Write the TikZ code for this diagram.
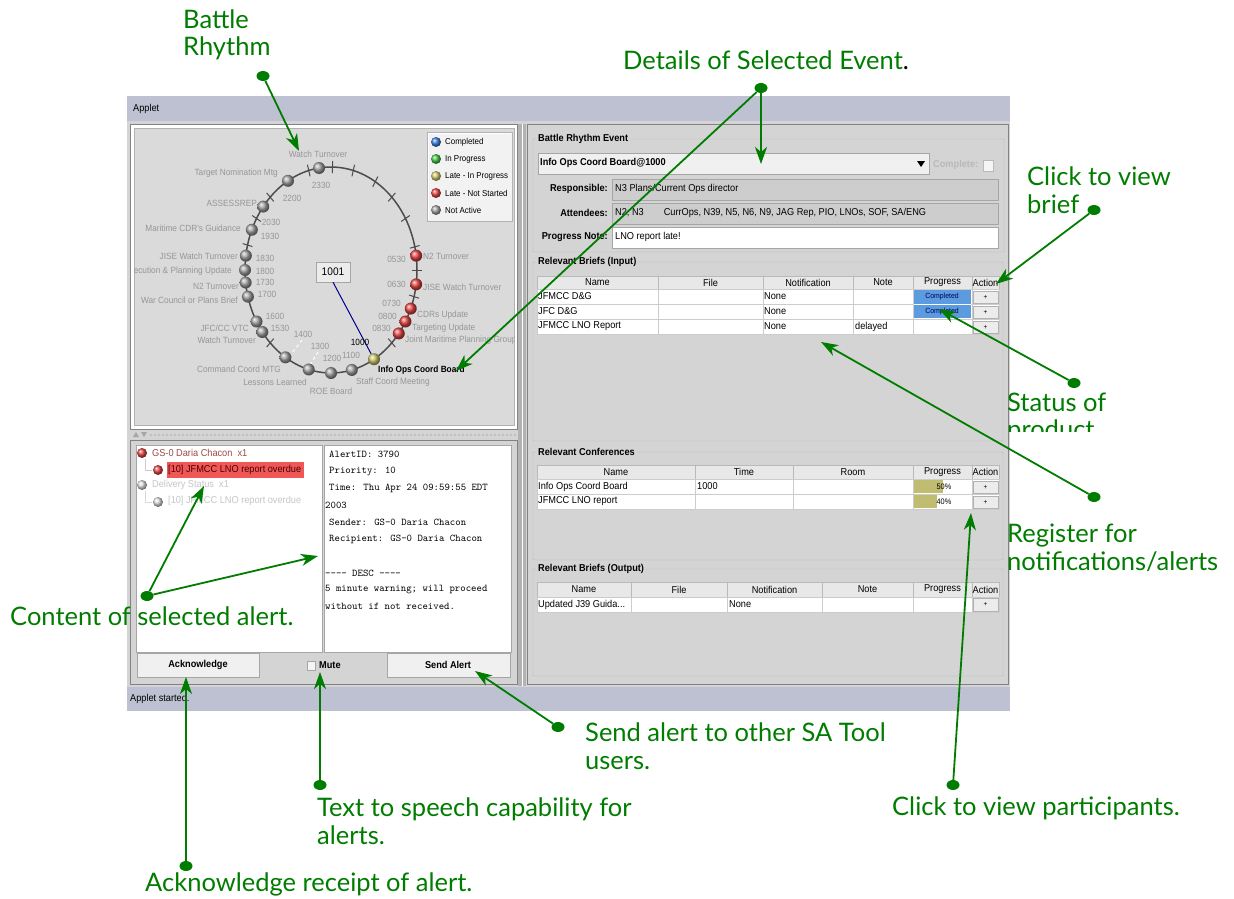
\documentclass[tikz,border=0pt]{standalone}
\usepackage{fontspec}
\setmainfont{Liberation Sans}
\newfontfamily\uifont[FakeStretch=0.92]{Liberation Sans}
\newfontfamily\calloutfont{Lato}
\usetikzlibrary{arrows.meta,positioning,shapes.geometric,calc}

\definecolor{notegreen}{RGB}{0,125,0}
\definecolor{barblue}{RGB}{190,193,209}
\definecolor{wingray}{RGB}{212,212,212}
\definecolor{panegray}{RGB}{218,218,218}
\definecolor{edgegray}{RGB}{130,130,130}
\definecolor{fieldgray}{RGB}{205,205,205}
\definecolor{evtgray}{RGB}{150,150,150}
\definecolor{doneblue}{RGB}{92,156,222}
\definecolor{olivebar}{RGB}{192,188,112}
\definecolor{alertred}{RGB}{240,88,88}
\definecolor{alerttext}{RGB}{160,72,72}
\definecolor{balltan}{RGB}{210,203,110}
\definecolor{ballgray}{RGB}{165,165,165}
\definecolor{ballred}{RGB}{232,70,70}
\definecolor{ballblue}{RGB}{60,130,220}
\definecolor{ballgreen}{RGB}{70,200,70}

\tikzset{
  ui/.style={font=\uifont\fontsize{10}{11}\selectfont, inner sep=0pt},
  uib/.style={ui, font=\uifont\bfseries\fontsize{10}{11}\selectfont},
  evt/.style={ui, text=evtgray, font=\uifont\fontsize{9}{10}\selectfont},
  mono/.style={font=\ttfamily\fontsize{10.3}{11}\selectfont, inner sep=0pt, anchor=west},
  ball/.style={circle, minimum size=12pt, inner sep=0pt, ball color=#1},
  note/.style={font=\calloutfont\fontsize{25.5}{27.5}\selectfont, text=notegreen, anchor=west, align=left, inner sep=0pt},
  pin/.style={ellipse, fill=notegreen, minimum width=13pt, minimum height=10pt, inner sep=0pt},
  callout/.style={draw=notegreen, line width=1.8pt, -{Stealth[length=17pt,width=12pt,inset=5pt]}},
  hdr/.style={fill=gray!18, draw=gray!55},
  cell/.style={fill=white, draw=gray!40},
  plusbtn/.style={fill=gray!15, draw=gray!60},
  frame/.style={draw=gray!55, rounded corners=1pt},
  field/.style={fill=fieldgray, draw=gray!70, line width=0.8pt}
}

\begin{document}
\begin{tikzpicture}[x=1pt, y=-1pt]
\useasboundingbox[fill=white] (0,0) rectangle (1234,899);

% window
\fill[wingray] (127,96) rectangle (1010,711);
\fill[barblue] (127,96) rectangle (1010,121);
\fill[barblue] (127,687) rectangle (1010,711);
\node[ui, anchor=west] (title) at (133,109) {Applet};
\node[ui, anchor=west] (status) at (130,699) {Applet started.};

% battle rhythm pane
\draw[edgegray, fill=white] (130,124) rectangle (517,429);
\draw[gray!60, fill=panegray] (134,128) rectangle (514,425);
\draw[gray!50, dotted, line width=2pt] (150,435) -- (517,435);
\fill[gray!70] (133,437) -- (139,437) -- (136,432) -- cycle;
\fill[gray!70] (141,432) -- (147,432) -- (144,437) -- cycle;
\fill[gray!60] (518,124) rectangle (526,686);
\draw[white] (522,124) -- (522,686);

\begin{scope}
\clip (134,128) rectangle (514,425);
\draw[black!70, line width=1.5pt] (331,270) ellipse [x radius=86, y radius=103];
\foreach \a in {105,89,75,59,45,30,13,0,-15,-45,135,150,166,225}
  \draw[black!70, line width=1pt] ({331+81*cos(\a)},{270-97*sin(\a)}) -- ({331+91*cos(\a)},{270-109*sin(\a)});
\draw[white, dashed, line width=1pt] (302,340) -- (289,357);
\draw[white, dashed, line width=1pt] (318,352) -- (310,365);

\node[draw=gray!70, fill=gray!15, minimum width=34pt, minimum height=20pt, inner sep=0pt, font=\uifont\fontsize{11}{12}\selectfont] (clock) at (333,272) {1001};

\foreach \a/\c [count=\i] in {98/ballgray,120/ballgray,142/ballgray,157/ballgray,172/ballgray,180/ballgray,187/ballgray,195/ballgray,210/ballgray,217/ballgray,238/ballgray,255/ballgray,270/ballgray,284/ballgray,300/balltan,322/ballred,330/ballred,338/ballred,352/ballred,8/ballred}
  \node[ball=\c] (ev\i) at ({331+86*cos(\a)},{270-103*sin(\a)}) {};
\draw[blue!55!black, line width=1pt] (clock.south) -- (ev15);

% event labels
\node[evt] (l1) at (318,154) {Watch Turnover};
\node[evt] (t1) at (321,185) {2330};
\node[evt, anchor=east] (l2) at (278,173) {Target Nomination Mtg};
\node[evt] (t2) at (292,198) {2200};
\node[evt, anchor=east] (l3) at (257,203) {ASSESSREP};
\node[evt] (t3) at (271,222) {2030};
\node[evt, anchor=east] (l4) at (241,228) {Maritime CDR's Guidance};
\node[evt] (t4) at (270,236) {1930};
\node[evt, anchor=east] (l5) at (238,256) {JISE Watch Turnover};
\node[evt] (t5) at (265,258) {1830};
\node[evt, anchor=east] (l6) at (232,271) {Execution \& Planning Update};
\node[evt] (t6) at (265,271) {1800};
\node[evt, anchor=east] (l7) at (239,286) {N2 Turnover};
\node[evt] (t7) at (265,282) {1730};
\node[evt, anchor=east] (l8) at (238,300) {War Council or Plans Brief};
\node[evt] (t8) at (267,294) {1700};
\node[evt] (t9) at (275,316) {1600};
\node[evt, anchor=east] (l9) at (249,328) {JFC/CC VTC};
\node[evt] (t10) at (280,328) {1530};
\node[evt, anchor=east] (l10) at (256,340) {Watch Turnover};
\node[evt] (t11) at (303,334) {1400};
\node[evt] (t12) at (320,346) {1300};
\node[evt] (t13) at (332,358) {1200};
\node[evt] (t14) at (351,355) {1100};
\node[evt, text=black] (t15) at (360,342) {1000};
\node[evt, anchor=east] (l11) at (281,369) {Command Coord MTG};
\node[evt, anchor=east] (l12) at (307,382) {Lessons Learned};
\node[evt] (l13) at (331,391) {ROE Board};
\node[evt, anchor=west] (l14) at (356,382) {Staff Coord Meeting};
\node[evt, anchor=west, text=black, font=\uifont\bfseries\fontsize{9}{10}\selectfont] (l15) at (378,370) {Info Ops Coord Board};
\node[evt, anchor=east] (t16) at (406,259) {0530};
\node[evt, anchor=west] (l16) at (423,256) {N2 Turnover};
\node[evt, anchor=east] (t17) at (406,284) {0630};
\node[evt, anchor=west] (l17) at (423,287) {JISE Watch Turnover};
\node[evt, anchor=east] (t18) at (401,303) {0730};
\node[evt, anchor=west] (l18) at (417,315) {CDRs Update};
\node[evt, anchor=east] (t19) at (397,316) {0800};
\node[evt, anchor=west] (l19) at (412,328) {Targeting Update};
\node[evt, anchor=east] (t20) at (391,328) {0830};
\node[evt, anchor=west] (l20) at (405,340) {Joint Maritime Planning Group};
\end{scope}

% legend
\draw[gray!60, fill=gray!10] (427,132) rectangle (512,221);
\draw[white] (428,220) -- (428,133) -- (511,133);
\foreach \c/\t [count=\i] in {ballblue/Completed,ballgreen/In Progress,balltan/Late - In Progress,ballred/Late - Not Started,ballgray/Not Active}{
  \node[ball=\c, minimum size=10pt] (key\i) at (436,{125+17*\i}) {};
  \node[ui, anchor=west, font=\uifont\fontsize{8.6}{9}\selectfont] (keytxt\i) at (445,{125+17*\i}) {\t};
}

% alert pane
\draw[edgegray, fill=wingray] (130,440) rectangle (517,684);
\draw[gray!70, fill=white] (136,445) rectangle (322,652);
\draw[gray!70, fill=white] (324,445) rectangle (511,652);
\node[ball=ballred, minimum size=10pt] (a1) at (142,453) {};
\node[ui, anchor=west, text=alerttext] (a1t) at (152,453) {GS-0 Daria Chacon\ \ x1};
\draw[gray!40] (145,459) |- (152,470);
\fill[alertred] (167,462) rectangle (304,478);
\node[ball=ballred, minimum size=10pt] (a2) at (158,470) {};
\node[ui, anchor=west, text=black!70!red] (a2t) at (168,470) {[10] JFMCC LNO report overdue};
\node[ball=gray!25, minimum size=10pt] (a3) at (142,485) {};
\node[ui, anchor=west, text=gray!45] (a3t) at (152,485) {Delivery Status\ \ x1};
\draw[gray!30] (145,491) |- (152,502);
\node[ball=gray!25, minimum size=10pt] (a4) at (158,502) {};
\node[ui, anchor=west, text=gray!45] (a4t) at (168,501) {[10] JFMCC LNO report overdue};

\node[mono] (m1) at (329,454) {AlertID: 3790};
\node[mono] (m2) at (329,471) {Priority: 10};
\node[mono] (m3) at (329,488) {Time: Thu Apr 24 09:59:55 EDT};
\node[mono] (m4) at (325,505) {2003};
\node[mono] (m5) at (329,522) {Sender: GS-0 Daria Chacon};
\node[mono] (m6) at (329,539) {Recipient: GS-0 Daria Chacon};
\node[mono] (m7) at (325,573) {---- DESC ----};
\node[mono] (m8) at (325,590) {5 minute warning; will proceed};
\node[mono] (m9) at (325,606) {without if not received.};

\draw[gray!70, fill=gray!12] (137,653) rectangle (259,677);
\node[uib] (ackbtn) at (198,665) {Acknowledge};
\draw[gray!70, fill=gray!8] (307,661) rectangle (315,670);
\node[uib, anchor=west] (mute) at (319,665) {Mute};
\draw[gray!70, fill=gray!12] (387,653) rectangle (510,677);
\node[uib] (sendbtn) at (448,665) {Send Alert};

% event details pane
\draw[edgegray] (527,124) rectangle (1008,684);
\draw[frame] (533,139) rectangle (1004,252);
\node[uib, fill=wingray, inner xsep=2pt, anchor=west] (grp1) at (536,139) {Battle Rhythm Event};
\draw[gray!70, fill=gray!12] (538,153) rectangle (929,174);
\node[uib, anchor=west] (combo) at (540,163) {Info Ops Coord Board@1000};
\fill (917,161) -- (925,161) -- (921,167) -- cycle;
\node[ui, anchor=west, text=gray!55, font=\uifont\bfseries\fontsize{10}{11}\selectfont] (compl) at (933,165) {Complete:};
\draw[gray!55, fill=gray!8] (983,160) rectangle (993,171);
\node[uib, anchor=east] (resp) at (608,189) {Responsible:};
\draw[field] (612,179) rectangle (998,200);
\node[ui, anchor=west] (respv) at (615,189) {N3 Plans/Current Ops director};
\node[uib, anchor=east] (att) at (608,213) {Attendees:};
\draw[field] (612,203) rectangle (998,224);
\node[ui, anchor=west] (attv) at (615,213) {N2, N3\qquad CurrOps, N39, N5, N6, N9, JAG Rep, PIO, LNOs, SOF, SA/ENG};
\node[uib, anchor=east] (note) at (608,237) {Progress Note:};
\draw[gray!70, fill=white, line width=0.8pt] (612,227) rectangle (998,248);
\node[ui, anchor=west] (notev) at (615,237) {LNO report late!};

% relevant briefs (input)
\draw[frame] (533,262) rectangle (1003,441);
\node[uib, fill=wingray, inner xsep=2pt, anchor=west] (grp2) at (536,262) {Relevant Briefs (Input)};
\foreach \xa/\xb/\t [count=\i] in {537/658/Name,658/763/File,763/853/Notification,853/913/Note,913/972/Progress,972/999/Action}{
  \draw[hdr] (\xa,276) rectangle (\xb,289);
  \node[ui] (bih\i) at ({(\xa+\xb)/2},282.5) {\t};
  \foreach \ya in {289,304,319}
    \draw[cell] (\xa,\ya) rectangle (\xb,\ya+15);
}
\fill[doneblue] (914,290) rectangle (971,318);
\draw[white] (914,304) -- (971,304);
\foreach \n/\f/\g [count=\j] in {JFMCC D\&G/None/,JFC D\&G/None/,JFMCC LNO Report/None/delayed}{
  \node[ui, anchor=west] (bin\j) at (538,{281.5+15*\j}) {\n};
  \node[ui, anchor=west] (bif\j) at (764,{281.5+15*\j}) {\f};
  \node[ui, anchor=west] (big\j) at (855,{281.5+15*\j}) {\g};
  \draw[plusbtn] (973,{276+15*\j}) rectangle (998,{288+15*\j});
  \node[ui, font=\uifont\fontsize{7}{8}\selectfont] (bip\j) at (985.5,{282+15*\j}) {+};
}
\node[ui, text=blue!40!black, font=\uifont\fontsize{7.5}{8}\selectfont] (bid1) at (942,297) {Completed};
\node[ui, text=blue!40!black, font=\uifont\fontsize{7.5}{8}\selectfont] (bid2) at (942,312) {Completed};

% relevant conferences
\draw[frame] (533,452) rectangle (1003,560);
\node[uib, fill=wingray, inner xsep=2pt, anchor=west] (grp3) at (536,452) {Relevant Conferences};
\foreach \xa/\xb/\t [count=\i] in {537/695/Name,695/793/Time,793/913/Room,913/972/Progress,972/999/Action}{
  \draw[hdr] (\xa,465) rectangle (\xb,479);
  \node[ui] (rch\i) at ({(\xa+\xb)/2},472) {\t};
  \foreach \ya in {479,494}
    \draw[cell] (\xa,\ya) rectangle (\xb,\ya+15);
}
\fill[olivebar] (914,480) rectangle (943,493);
\fill[olivebar] (914,495) rectangle (937,508);
\foreach \n/\t/\p [count=\j] in {Info Ops Coord Board/1000/50\%,JFMCC LNO report//40\%}{
  \node[ui, anchor=west] (rcn\j) at (538,{471.5+15*\j}) {\n};
  \node[ui, anchor=west] (rct\j) at (697,{471.5+15*\j}) {\t};
  \node[ui, font=\uifont\fontsize{8}{9}\selectfont] (rcp\j) at (944,{472+15*\j}) {\p};
  \draw[plusbtn] (973,{466+15*\j}) rectangle (998,{478+15*\j});
  \node[ui, font=\uifont\fontsize{7}{8}\selectfont] (rcb\j) at (985.5,{472+15*\j}) {+};
}

% relevant briefs (output)
\draw[frame] (533,569) rectangle (1003,676);
\node[uib, fill=wingray, inner xsep=2pt, anchor=west] (grp4) at (536,569) {Relevant Briefs (Output)};
\foreach \xa/\xb/\t [count=\i] in {537/631/Name,631/727/File,727/822/Notification,822/913/Note,913/972/Progress,972/999/Action}{
  \draw[hdr] (\xa,582) rectangle (\xb,597);
  \node[ui] (boh\i) at ({(\xa+\xb)/2},589.5) {\t};
  \draw[cell] (\xa,597) rectangle (\xb,612);
}
\node[ui, anchor=west] (bon) at (538,604.5) {Updated J39 Guida...};
\node[ui, anchor=west] (bof) at (729,604.5) {None};
\draw[plusbtn] (973,598) rectangle (998,611);
\node[ui, font=\uifont\fontsize{7}{8}\selectfont] (bob) at (985.5,604.5) {+};

% callouts
\node[note] (brtxt) at (183,35) {Battle\\Rhythm};
\node[pin] (brdot) at (263,76) {};
\coordinate (brtip) at (299,151);
\draw[callout] (brdot) -- (brtip);

\node[note] (evtxt) at (623,60) {Details of Selected Event\textcolor{black}{.}};
\node[pin] (evdot) at (761,88) {};
\coordinate (evtip) at (761,164);
\coordinate (evtip2) at (456,371);
\draw[callout] (evdot) -- (evtip);
\draw[callout] (evdot) -- (evtip2);

\node[note] (vbtxt) at (1027,190) {Click to view\\brief};
\node[pin] (vbdot) at (1094,210) {};
\coordinate (vbtip) at (996,284);
\draw[callout] (vbdot) -- (vbtip);

\begin{scope}
\clip (1000,380) rectangle (1234,431);
\node[note] (sttxt) at (1007,418) {Status of\\product};
\end{scope}
\node[pin] (stdot) at (1074,383) {};
\coordinate (sttip) at (939,309);
\draw[callout] (stdot) -- (sttip);

\node[note] (rgtxt) at (1007,548) {Register for\\notifications/alerts};
\node[pin] (rgdot) at (1094,497) {};
\coordinate (rgtip) at (821,342);
\draw[callout] (rgdot) -- (rgtip);

\node[note] (vptxt) at (892,808) {Click to view participants.};
\node[pin] (vpdot) at (953,785) {};
\coordinate (vptip) at (971,513);
\draw[callout] (vpdot) -- (vptip);

\node[note] (satxt) at (585,746) {Send alert to other SA Tool\\users.};
\node[pin] (sadot) at (558,727) {};
\coordinate (satip) at (475,671);
\draw[callout] (sadot) -- (satip);

\node[note] (tstxt) at (317,821) {Text to speech capability for\\alerts.};
\node[pin] (tsdot) at (320,785) {};
\coordinate (tstip) at (320,672);
\draw[callout] (tsdot) -- (tstip);

\node[note] (aktxt) at (145,884) {Acknowledge receipt of alert.};
\node[pin] (akdot) at (186,866) {};
\coordinate (aktip) at (186,677);
\draw[callout] (akdot) -- (aktip);

\node[note] (catxt) at (10,616) {Content of selected alert.};
\node[pin] (cadot) at (147,596) {};
\coordinate (catip) at (204,486);
\coordinate (catip2) at (318,556);
\draw[callout] (cadot) -- (catip);
\draw[callout] (cadot) -- (catip2);

\end{tikzpicture}
\end{document}
